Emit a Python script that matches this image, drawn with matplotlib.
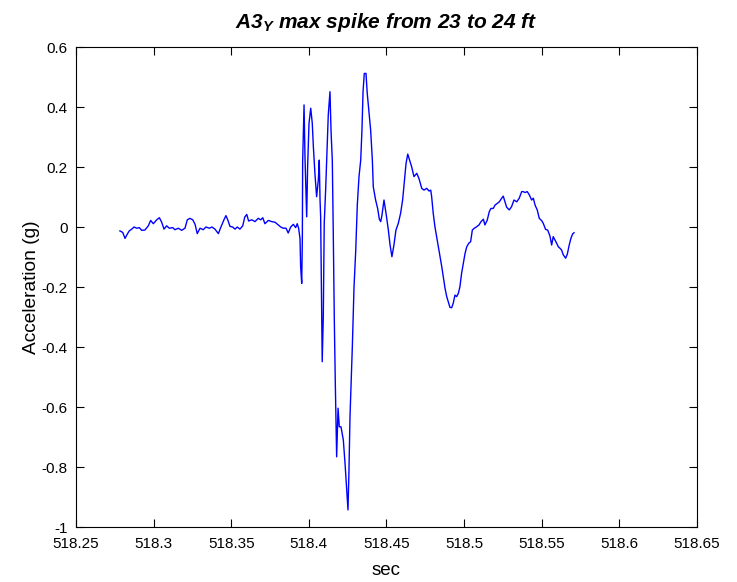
import matplotlib
matplotlib.use("Agg")
import matplotlib.pyplot as plt
from matplotlib.ticker import FuncFormatter, MultipleLocator

plt.rcParams['font.family'] = ['Liberation Sans', 'DejaVu Sans']
plt.rcParams['axes.unicode_minus'] = False
plt.rcParams['mathtext.fontset'] = 'custom'
plt.rcParams['mathtext.it'] = 'Liberation Sans:italic:bold'
plt.rcParams['mathtext.rm'] = 'Liberation Sans:bold'

# time (s) and acceleration (g)
t_sec = [
    518.2783, 518.2801, 518.2816, 518.2830, 518.2843, 518.2859, 518.2874, 518.2891,
    518.2908, 518.2923, 518.2944, 518.2966, 518.2981, 518.2998, 518.3020, 518.3037,
    518.3052, 518.3067, 518.3084, 518.3101, 518.3123, 518.3138, 518.3159, 518.3181,
    518.3202, 518.3217, 518.3234, 518.3252, 518.3267, 518.3281, 518.3299, 518.3320,
    518.3337, 518.3359, 518.3376, 518.3395, 518.3417, 518.3432, 518.3453, 518.3466,
    518.3479, 518.3492, 518.3509, 518.3524, 518.3539, 518.3556, 518.3574, 518.3587,
    518.3600, 518.3612, 518.3632, 518.3653, 518.3674, 518.3690, 518.3703, 518.3717,
    518.3739, 518.3761, 518.3782, 518.3803, 518.3819, 518.3835, 518.3853, 518.3867,
    518.3883, 518.3900, 518.3915, 518.3925, 518.3934,
    # spike section
    518.3943, 518.3947, 518.3954, 518.3958, 518.3960, 518.3969, 518.3975, 518.3986,
    518.3992, 518.4001, 518.4012, 518.4022, 518.4029, 518.4039, 518.4050, 518.4061,
    518.4067, 518.4072, 518.4076, 518.4083, 518.4086, 518.4093, 518.4099, 518.4108,
    518.4115, 518.4125, 518.4136, 518.4143, 518.4151, 518.4157, 518.4164, 518.4170,
    518.4179, 518.4188, 518.4196, 518.4207, 518.4222, 518.4233, 518.4244, 518.4252,
    518.4258, 518.4265, 518.4271, 518.4280, 518.4291, 518.4302, 518.4312, 518.4323,
    518.4334, 518.4342, 518.4349, 518.4357, 518.4368, 518.4376, 518.4387, 518.4398,
    518.4409, 518.4415, 518.4430, 518.4443, 518.4454, 518.4463, 518.4471, 518.4484,
    518.4497, 518.4512, 518.4523, 518.4535, 518.4548, 518.4561, 518.4576, 518.4591,
    # tail
    518.4604, 518.4615, 518.4626, 518.4637, 518.4647, 518.4662, 518.4677, 518.4695,
    518.4709, 518.4727, 518.4742, 518.4759, 518.4774, 518.4785, 518.4791, 518.4801,
    518.4812, 518.4823, 518.4834, 518.4845, 518.4856, 518.4866, 518.4877, 518.4888,
    518.4898, 518.4909, 518.4920, 518.4930, 518.4941, 518.4952, 518.4963, 518.4973,
    518.4984, 518.4995, 518.5006, 518.5017, 518.5030, 518.5042, 518.5053, 518.5066,
    518.5081, 518.5096, 518.5109, 518.5124, 518.5134, 518.5149, 518.5162, 518.5173,
    518.5188, 518.5199, 518.5214, 518.5227, 518.5242, 518.5252, 518.5263, 518.5274,
    518.5291, 518.5306, 518.5321, 518.5339, 518.5355, 518.5371, 518.5381, 518.5392,
    518.5407, 518.5420, 518.5435, 518.5446, 518.5457, 518.5471, 518.5484, 518.5500,
    518.5510, 518.5525, 518.5538, 518.5553, 518.5564, 518.5574, 518.5585, 518.5596,
    518.5607, 518.5618, 518.5628, 518.5639, 518.5654, 518.5665, 518.5677, 518.5688,
    518.5699, 518.5708,
]

accel_g = [
    -0.013, -0.018, -0.038, -0.024, -0.013, -0.007, 0.000, -0.004,
    -0.002, -0.011, -0.010, 0.004, 0.022, 0.011, 0.024, 0.031,
    0.016, -0.007, 0.004, -0.004, -0.002, -0.009, -0.004, -0.011,
    -0.004, 0.024, 0.029, 0.024, 0.009, -0.022, -0.004, -0.009,
    0.000, -0.004, 0.000, -0.007, -0.022, -0.002, 0.024, 0.038,
    0.022, 0.002, 0.000, -0.007, 0.000, -0.007, 0.004, 0.033,
    0.042, 0.020, 0.024, 0.018, 0.029, 0.024, 0.031, 0.011,
    0.022, 0.018, 0.016, 0.007, 0.000, -0.004, -0.004, -0.020,
    0.000, 0.009, -0.002, 0.011, -0.004,
    # spike section
    -0.038, -0.132, -0.188, -0.043, 0.218, 0.407, 0.234, 0.034,
    0.201, 0.346, 0.396, 0.346, 0.268, 0.179, 0.101, 0.157,
    0.223, 0.090, 0.034, -0.299, -0.449, -0.299, 0.012, 0.123,
    0.223, 0.373, 0.451, 0.318, 0.223, -0.010, -0.310, -0.510,
    -0.766, -0.604, -0.666, -0.666, -0.710, -0.788, -0.877, -0.943,
    -0.821, -0.632, -0.543, -0.399, -0.199, -0.077, 0.073, 0.168,
    0.223, 0.323, 0.451, 0.512, 0.512, 0.446, 0.384, 0.323,
    0.223, 0.134, 0.090, 0.062, 0.026, 0.018, 0.040, 0.090,
    0.046, -0.010, -0.060, -0.099, -0.060, -0.010, 0.012, 0.046,
    # tail
    0.090, 0.151, 0.212, 0.243, 0.226, 0.201, 0.168, 0.179,
    0.162, 0.129, 0.123, 0.129, 0.120, 0.123, 0.101, 0.046,
    0.001, -0.032, -0.066, -0.099, -0.132, -0.166, -0.204, -0.232,
    -0.249, -0.268, -0.269, -0.254, -0.227, -0.232, -0.221, -0.199,
    -0.154, -0.121, -0.088, -0.066, -0.054, -0.049, -0.010, -0.004,
    0.001, 0.007, 0.018, 0.026, 0.007, 0.023, 0.051, 0.062,
    0.062, 0.073, 0.079, 0.084, 0.096, 0.103, 0.084, 0.066,
    0.057, 0.068, 0.090, 0.084, 0.096, 0.118, 0.118, 0.115,
    0.118, 0.107, 0.090, 0.096, 0.073, 0.057, 0.029, 0.021,
    0.012, -0.008, -0.010, -0.030, -0.060, -0.032, -0.043, -0.054,
    -0.066, -0.071, -0.077, -0.093, -0.104, -0.090, -0.060, -0.038,
    -0.023, -0.019,
]

fig = plt.figure(figsize=(7.37, 5.82), dpi=100)
ax = fig.add_axes([0.1031, 0.0945, 0.8426, 0.8247])

ax.plot(t_sec, accel_g, color='#0000ff', linewidth=1.0)

ax.set_xlim(518.25, 518.65)
ax.set_ylim(-1, 0.6)
ax.xaxis.set_major_locator(MultipleLocator(0.05))
ax.yaxis.set_major_locator(MultipleLocator(0.2))
fmt = FuncFormatter(lambda v, p: '%g' % round(v, 4))
ax.xaxis.set_major_formatter(fmt)
ax.yaxis.set_major_formatter(fmt)

ax.tick_params(direction='in', length=6, width=0.8, top=True, right=True,
               labelsize=11)
ax.tick_params(axis='x', pad=7)
ax.tick_params(axis='y', pad=6)
for s in ax.spines.values():
    s.set_linewidth(0.8)

ax.set_xlabel('sec', fontsize=13.5, labelpad=8)
ax.set_ylabel('Acceleration (g)', fontsize=13.8, labelpad=1)
ax.set_title(r'A3$_Y$ max spike from 23 to 24 ft', fontsize=15,
             fontweight='bold', fontstyle='italic', pad=14)

# lift the bottom y label (-1) so it clears the x labels, like MATLAB does
fig.canvas.draw()
ax.yaxis.get_major_ticks()[0].label1.set_verticalalignment('bottom')

fig.savefig('out.png', dpi=100)
